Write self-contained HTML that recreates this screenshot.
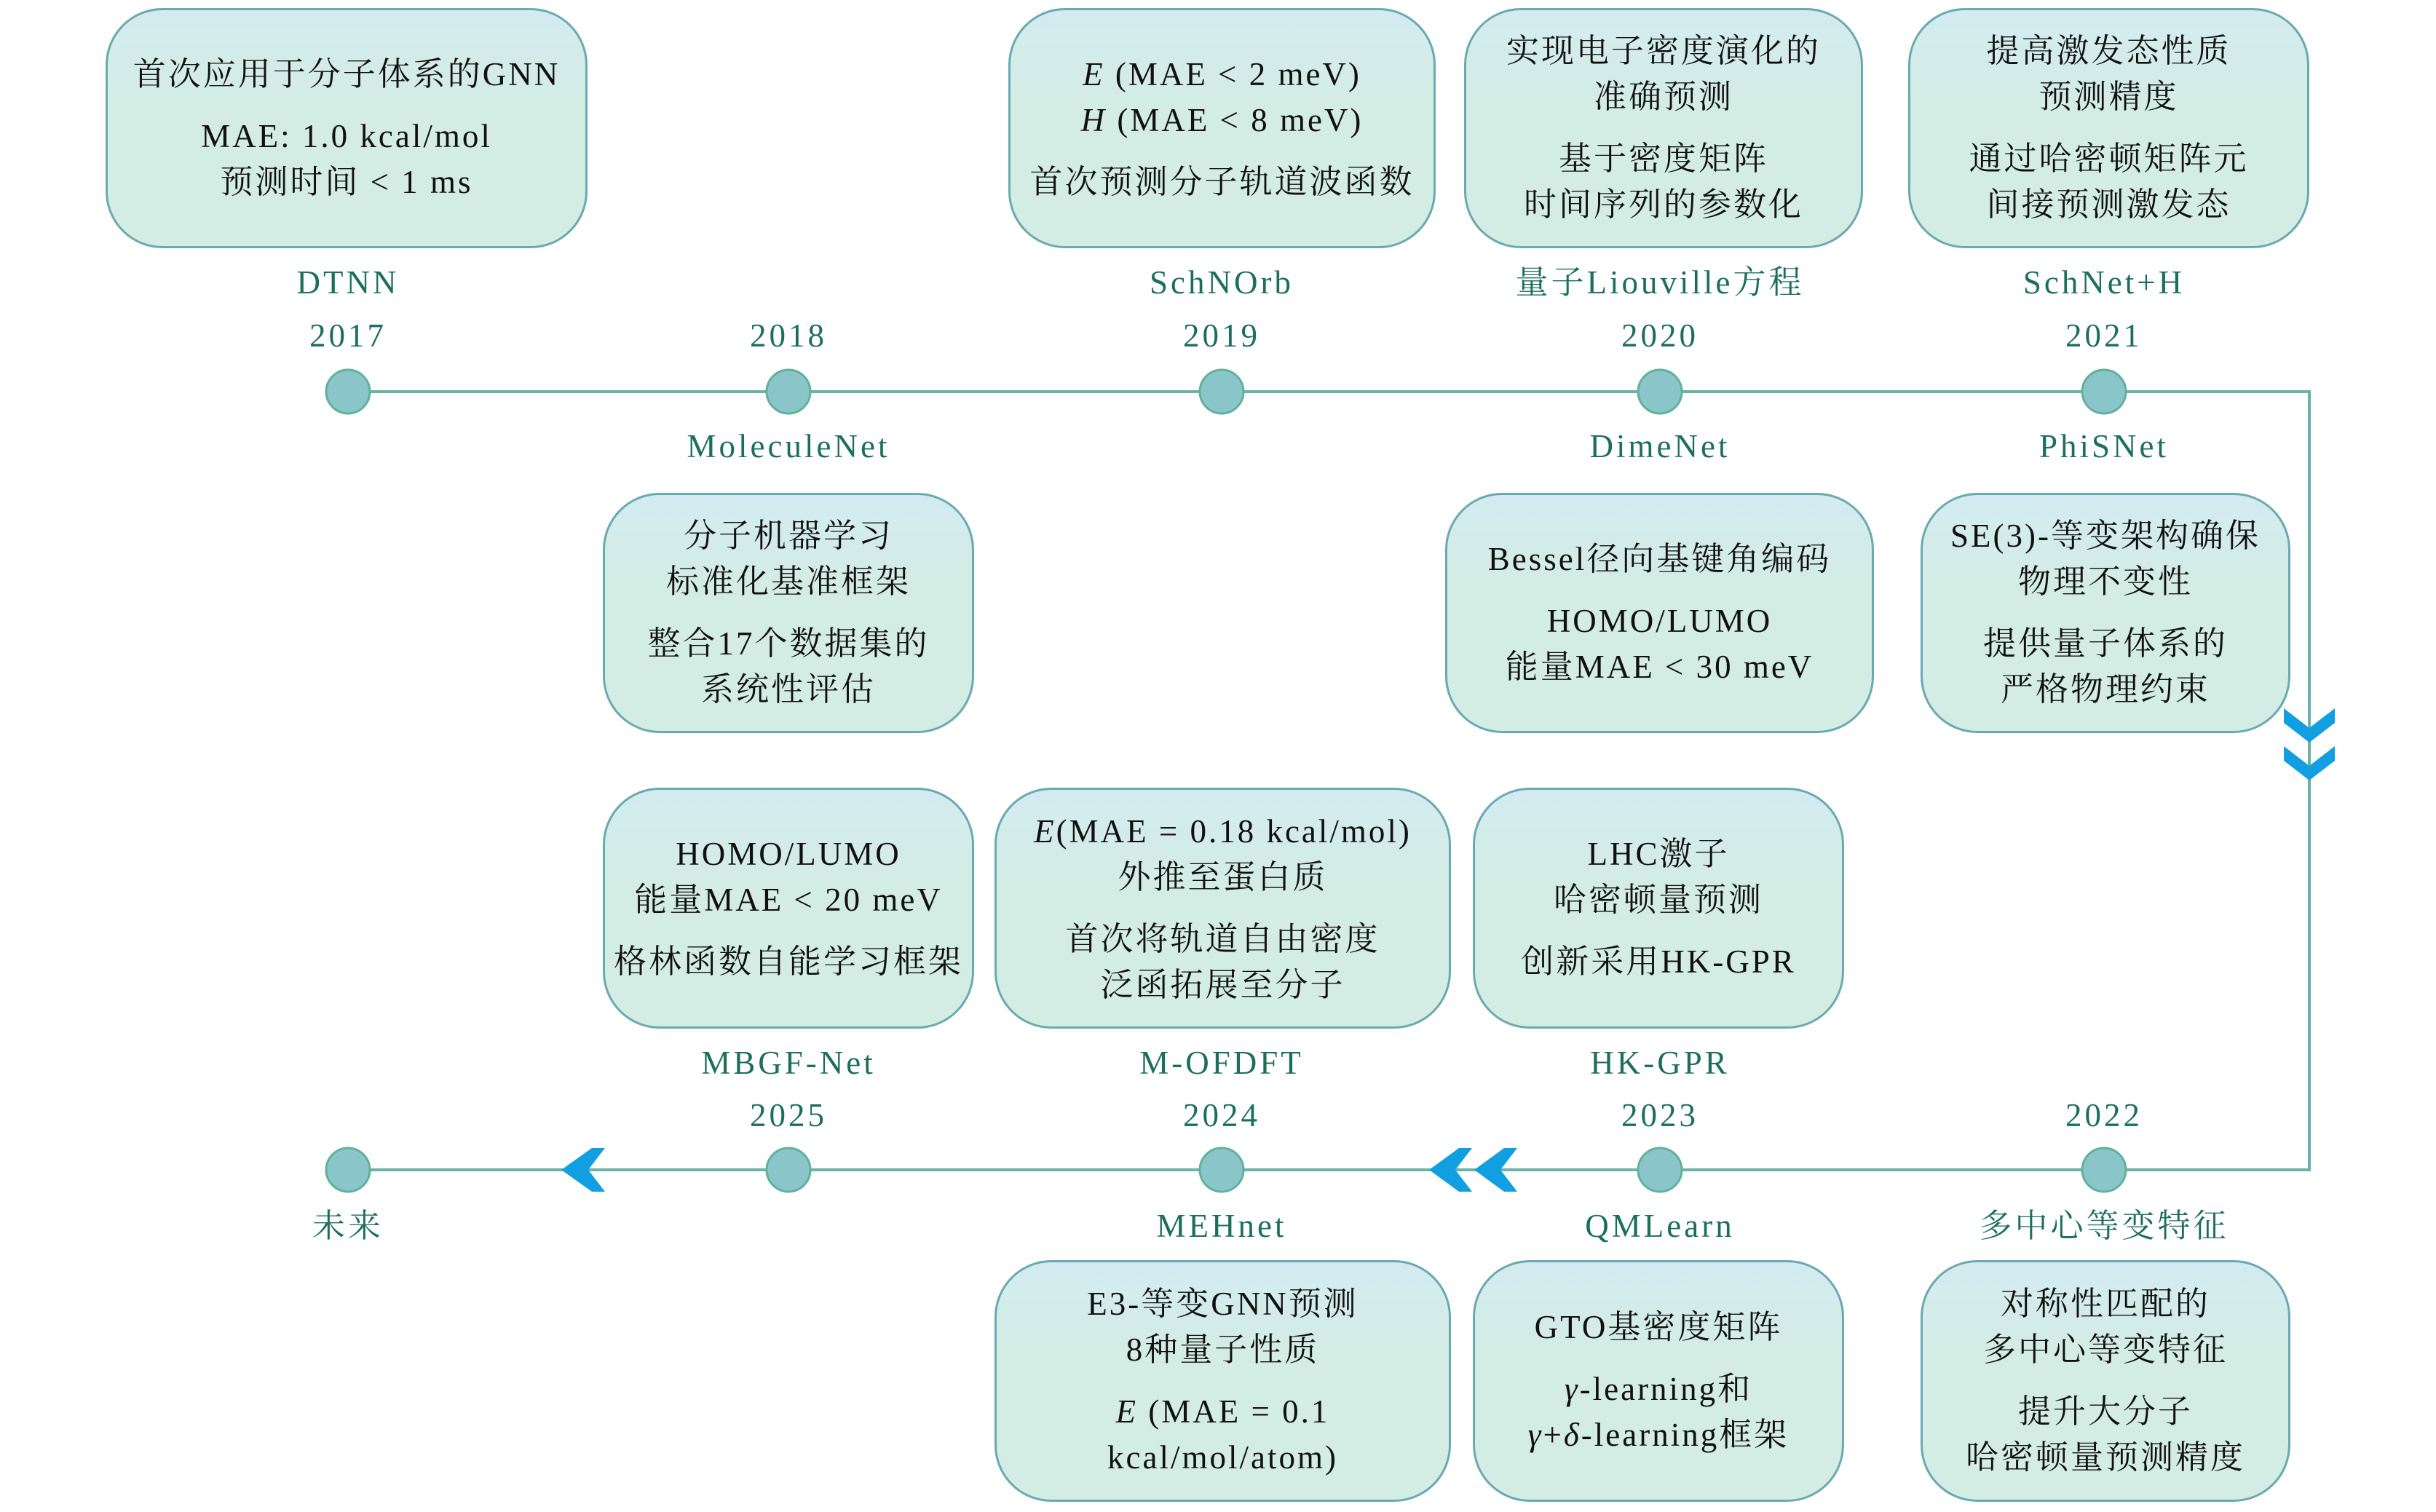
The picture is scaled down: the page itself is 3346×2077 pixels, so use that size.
<!DOCTYPE html>
<html><head><meta charset="utf-8"><style>
body{margin:0;width:3346px;height:2077px;background:#fff;position:relative;overflow:hidden;font-family:"Liberation Serif","Noto Serif CJK SC",serif;}
.b{position:absolute;box-sizing:border-box;border:3px solid #6aa9b2;border-radius:78px;background:linear-gradient(#d3ebf0,#d3ede4 40%,#d3ede4);display:flex;flex-direction:column;align-items:center;justify-content:center;text-align:center;color:#111;font-size:45px;line-height:63px;letter-spacing:3px;}
.b p{margin:0;}
.b p+p{margin-top:22px;}
.l{position:absolute;width:600px;margin-left:-300px;text-align:center;color:#1d6e5c;font-size:45px;line-height:50px;letter-spacing:4px;}
</style></head><body>
<svg width="3346" height="2077" style="position:absolute;left:0;top:0">
<g stroke="#6ab3a8" stroke-width="4" fill="none">
<polyline points="478,538 3172,538 3172,1607 478,1607"/>
</g>
<g fill="#8ac6c9" stroke="#62b09c" stroke-width="3">
<circle cx="478" cy="538" r="30"/><circle cx="1083" cy="538" r="30"/><circle cx="1678" cy="538" r="30"/><circle cx="2280" cy="538" r="30"/><circle cx="2890" cy="538" r="30"/>
<circle cx="478" cy="1607" r="30"/><circle cx="1083" cy="1607" r="30"/><circle cx="1678" cy="1607" r="30"/><circle cx="2280" cy="1607" r="30"/><circle cx="2890" cy="1607" r="30"/>
</g>
<g fill="#129fe2">
<polygon points="3137,973 3172,1000 3207,973 3207,993 3172,1020 3137,993"/>
<polygon points="3137,1025 3172,1052 3207,1025 3207,1045 3172,1072 3137,1045"/>
<polygon points="831,1577 808,1607 831,1637 813,1637 771,1607 813,1577"/>
<polygon points="2022,1577 1999,1607 2022,1637 2004,1637 1963,1607 2004,1577"/>
<polygon points="2084,1577 2061,1607 2084,1637 2066,1637 2025,1607 2066,1577"/>
</g>
</svg>

<div class="b" style="left:145px;top:11px;width:662px;height:330px"><p>首次应用于分子体系的GNN</p><p>MAE: 1.0 kcal/mol<br>预测时间 &lt; 1 ms</p></div>
<div class="b" style="left:1385px;top:11px;width:587px;height:330px"><p><i>E</i> (MAE &lt; 2 meV)<br><i>H</i> (MAE &lt; 8 meV)</p><p>首次预测分子轨道波函数</p></div>
<div class="b" style="left:2011px;top:11px;width:548px;height:330px"><p>实现电子密度演化的<br>准确预测</p><p>基于密度矩阵<br>时间序列的参数化</p></div>
<div class="b" style="left:2621px;top:11px;width:551px;height:330px"><p>提高激发态性质<br>预测精度</p><p>通过哈密顿矩阵元<br>间接预测激发态</p></div>

<div class="b" style="left:828px;top:677px;width:510px;height:330px"><p>分子机器学习<br>标准化基准框架</p><p>整合17个数据集的<br>系统性评估</p></div>
<div class="b" style="left:1985px;top:677px;width:589px;height:330px"><p>Bessel径向基键角编码</p><p>HOMO/LUMO<br>能量MAE &lt; 30 meV</p></div>
<div class="b" style="left:2638px;top:677px;width:508px;height:330px"><p>SE(3)-等变架构确保<br>物理不变性</p><p>提供量子体系的<br>严格物理约束</p></div>

<div class="b" style="left:828px;top:1082px;width:510px;height:331px"><p>HOMO/LUMO<br>能量MAE &lt; 20 meV</p><p>格林函数自能学习框架</p></div>
<div class="b" style="left:1366px;top:1082px;width:627px;height:331px"><p><i>E</i>(MAE = 0.18 kcal/mol)<br>外推至蛋白质</p><p>首次将轨道自由密度<br>泛函拓展至分子</p></div>
<div class="b" style="left:2023px;top:1082px;width:510px;height:331px"><p>LHC激子<br>哈密顿量预测</p><p>创新采用HK-GPR</p></div>

<div class="b" style="left:1366px;top:1731px;width:627px;height:332px"><p>E3-等变GNN预测<br>8种量子性质</p><p><i>E</i> (MAE = 0.1<br>kcal/mol/atom)</p></div>
<div class="b" style="left:2023px;top:1731px;width:510px;height:332px"><p>GTO基密度矩阵</p><p><i>γ</i>-learning和<br><i>γ</i>+<i>δ</i>-learning框架</p></div>
<div class="b" style="left:2638px;top:1731px;width:508px;height:332px"><p>对称性匹配的<br>多中心等变特征</p><p>提升大分子<br>哈密顿量预测精度</p></div>

<div class="l" style="left:478px;top:363px">DTNN</div>
<div class="l" style="left:1678px;top:363px">SchNOrb</div>
<div class="l" style="left:2280px;top:363px">量子Liouville方程</div>
<div class="l" style="left:2890px;top:363px">SchNet+H</div>
<div class="l" style="left:478px;top:436px">2017</div>
<div class="l" style="left:1083px;top:436px">2018</div>
<div class="l" style="left:1678px;top:436px">2019</div>
<div class="l" style="left:2280px;top:436px">2020</div>
<div class="l" style="left:2890px;top:436px">2021</div>
<div class="l" style="left:1083px;top:588px">MoleculeNet</div>
<div class="l" style="left:2280px;top:588px">DimeNet</div>
<div class="l" style="left:2890px;top:588px">PhiSNet</div>

<div class="l" style="left:1083px;top:1435px">MBGF-Net</div>
<div class="l" style="left:1678px;top:1435px">M-OFDFT</div>
<div class="l" style="left:2280px;top:1435px">HK-GPR</div>
<div class="l" style="left:1083px;top:1507px">2025</div>
<div class="l" style="left:1678px;top:1507px">2024</div>
<div class="l" style="left:2280px;top:1507px">2023</div>
<div class="l" style="left:2890px;top:1507px">2022</div>
<div class="l" style="left:478px;top:1659px">未来</div>
<div class="l" style="left:1678px;top:1659px">MEHnet</div>
<div class="l" style="left:2280px;top:1659px">QMLearn</div>
<div class="l" style="left:2890px;top:1659px">多中心等变特征</div>
</body></html>
